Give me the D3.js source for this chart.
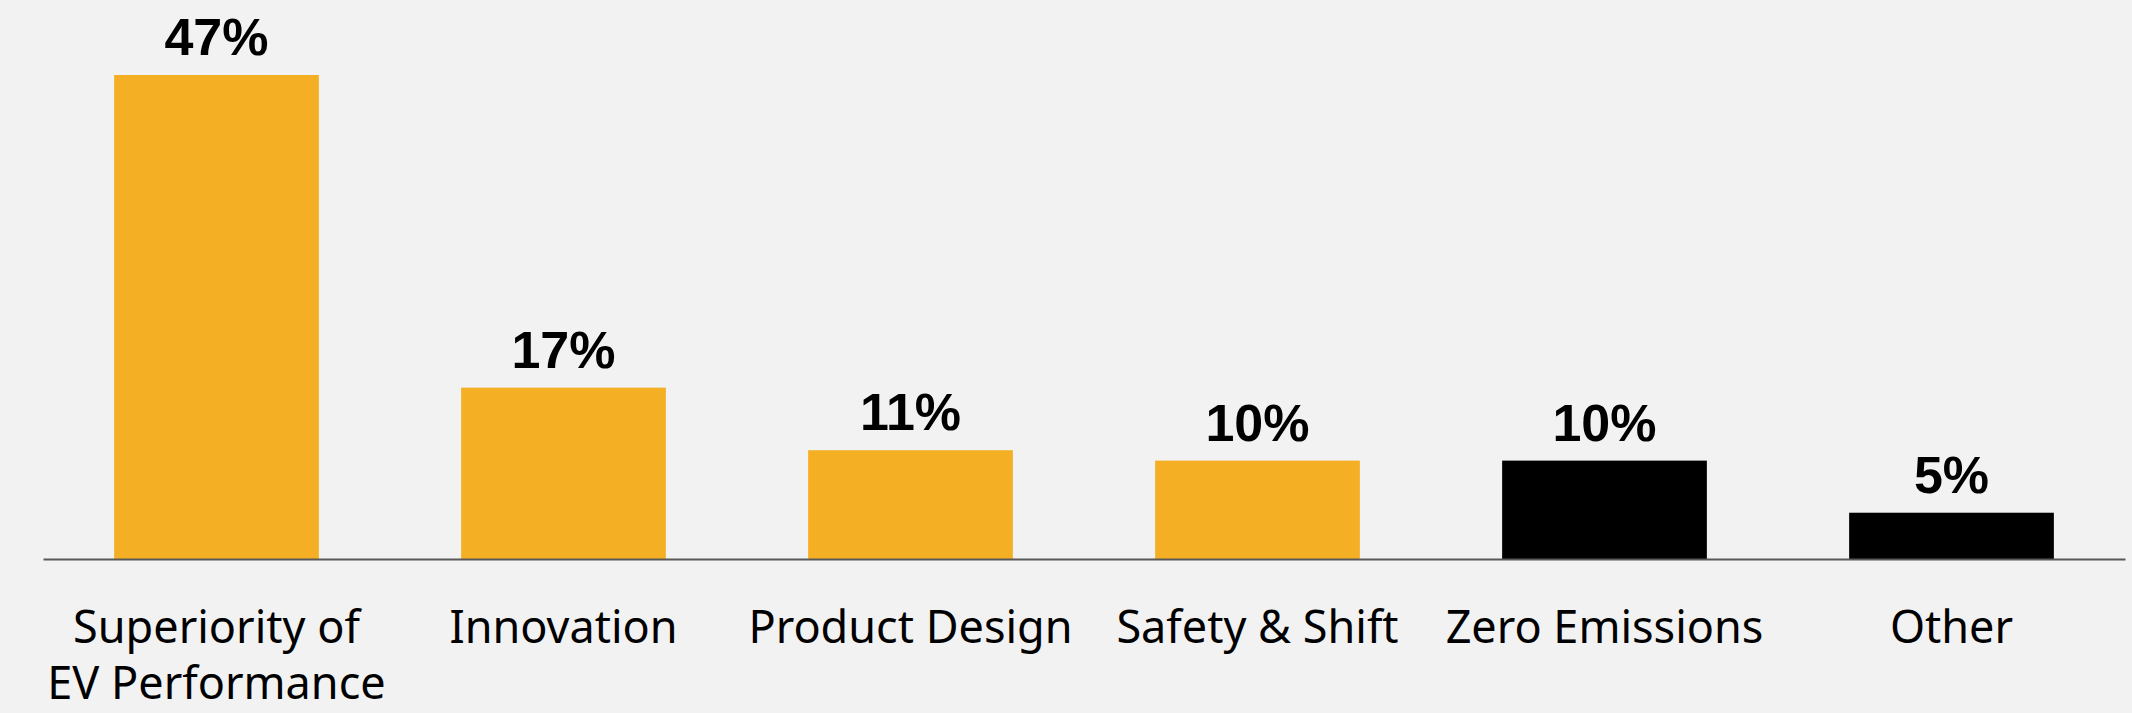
<!DOCTYPE html>
<html>
<head>
<meta charset="utf-8">
<script src="https://cdn.jsdelivr.net/npm/d3@7"></script>
<style>
  html, body { margin: 0; padding: 0; background: #f2f2f2; }
  svg { display: block; }
</style>
</head>
<body>
<div id="chart"></div>
<script>
const categories = ["Superiority of\nEV Performance", "Innovation", "Product Design", "Safety & Shift", "Zero Emissions", "Other"];
const values = [47, 17, 11, 10, 10, 5];
const valueLabels = ["47%", "17%", "11%", "10%", "10%", "5%"];
const barColors = ["#F4AF24", "#F4AF24", "#F4AF24", "#F4AF24", "#000000", "#000000"];

const W = 2132, H = 713;
const baseY = 559, topY = 75;

const svg = d3.select("#chart").append("svg")
  .attr("width", W).attr("height", H);

svg.append("rect").attr("width", W).attr("height", H).attr("fill", "#f2f2f2");

const x = d3.scaleBand()
  .domain(categories)
  .range([43, 2125])
  .paddingInner(0.41)
  .paddingOuter(0.205);

const y = d3.scaleLinear()
  .domain([0.56, 47])
  .range([baseY, topY]);

const data = categories.map((c, i) => ({ c, v: values[i], label: valueLabels[i], color: barColors[i] }));

svg.append("g").selectAll("rect")
  .data(data).enter().append("rect")
  .attr("x", d => x(d.c))
  .attr("y", d => y(d.v))
  .attr("width", x.bandwidth())
  .attr("height", d => baseY - y(d.v))
  .attr("fill", d => d.color);

svg.append("g").selectAll("text")
  .data(data).enter().append("text")
  .attr("x", d => x(d.c) + x.bandwidth() / 2)
  .attr("y", d => y(d.v) - 20)
  .attr("text-anchor", "middle")
  .attr("font-family", "'Liberation Sans', Arial, sans-serif")
  .attr("font-weight", "bold")
  .attr("font-size", 52)
  .attr("fill", "#000")
  .text(d => d.label);

const axis = svg.append("g")
  .attr("transform", `translate(0,${baseY})`)
  .call(d3.axisBottom(x).tickSize(0).tickPadding(0).tickFormat(""));

axis.select(".domain").attr("stroke", "#595959").attr("stroke-width", 2);

axis.selectAll(".tick text").remove();
axis.selectAll(".tick").each(function(d) {
  const lines = d.split("\n");
  const t = d3.select(this).append("text")
    .attr("text-anchor", "middle")
    .attr("font-family", "'Noto Sans', 'Open Sans', sans-serif")
    .attr("font-size", 45)
    .attr("fill", "#000");
  lines.forEach((ln, i) => {
    t.append("tspan").attr("x", 0).attr("y", 84 + i * 56).text(ln);
  });
});
</script>
</body>
</html>
